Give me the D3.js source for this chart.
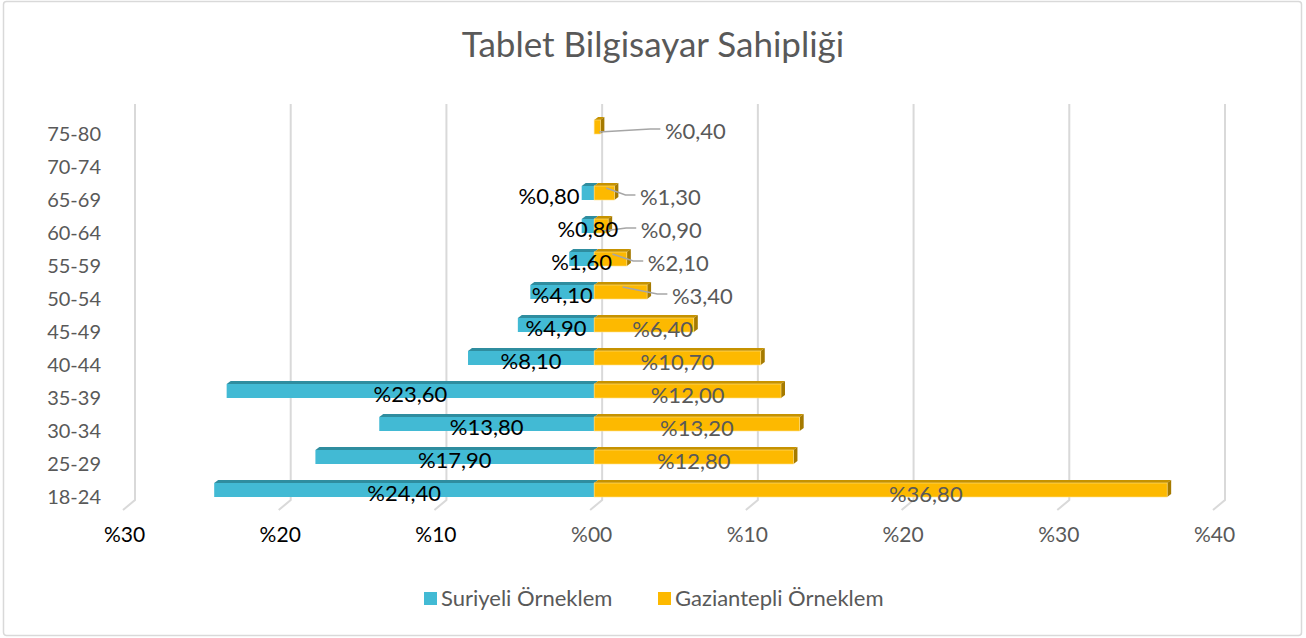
<!DOCTYPE html>
<html>
<head>
<meta charset="utf-8">
<script src="https://cdn.jsdelivr.net/npm/d3@7"></script>
<style>
  body { margin: 0; background: #fff; }
  svg { display: block; font-family: Lato, "Open Sans", sans-serif; }
</style>
</head>
<body>
<div id="chart"></div>
<script>
  // data (age groups, top to bottom as drawn)
  var categories = ["75-80", "70-74", "65-69", "60-64", "55-59", "50-54", "45-49", "40-44", "35-39", "30-34", "25-29", "18-24"];
  var suriyeli = [0, 0, 0.8, 0.8, 1.6, 4.1, 4.9, 8.1, 23.6, 13.8, 17.9, 24.4];
  var gaziantepli = [0.4, 0, 1.3, 0.9, 2.1, 3.4, 6.4, 10.7, 12.0, 13.2, 12.8, 36.8];
  var tickValues = [-30, -20, -10, 0, 10, 20, 30, 40];
  var seriesNames = ["Suriyeli Örneklem", "Gaziantepli Örneklem"];
  var title = "Tablet Bilgisayar Sahipliği";

  var width = 1306, height = 638;

  var blue = "#42bad4", blueTop = "#2f8d9f";
  var gold = "#fdb900", goldTop = "#c69200", goldSide = "#a57a00";

  // manually moved labels in the original (label centre in axis units)
  var gazLabelAt = { "75-80": 6.5, "65-69": 4.9, "60-64": 4.95, "55-59": 5.4, "50-54": 6.95, "45-49": 4.4, "18-24": 21.3 };
  var gazLeader = ["75-80", "65-69", "60-64", "55-59", "50-54"];
  var surLabelAt = { "65-69": -2.9 };

  var svg = d3.select("#chart").append("svg")
    .attr("width", width)
    .attr("height", height);

  // outer frame
  svg.append("rect")
    .attr("x", 3.5).attr("y", 1.5)
    .attr("width", 1298).attr("height", 634)
    .attr("rx", 3)
    .attr("fill", "#fff")
    .attr("stroke", "#d9d9d9")
    .attr("stroke-width", 1.5);

  svg.append("text")
    .attr("x", 653).attr("y", 57)
    .attr("text-anchor", "middle")
    .attr("font-size", "35px")
    .attr("fill", "#595959")
    .text(title);

  var x = d3.scaleLinear().domain([-30, 40]).range([127, 1217]);
  var y = d3.scalePoint().domain(categories).range([127, 490]);

  var depthX = 8;

  // back wall gridlines with floor slant
  svg.append("g").selectAll("path")
    .data(tickValues)
    .join("path")
    .attr("d", d => "M" + (x(d) + depthX) + ",104 L" + (x(d) + depthX) + ",500 L" + (x(d) - 4) + ",510")
    .attr("fill", "none")
    .attr("stroke", "#d9d9d9")
    .attr("stroke-width", 2);

  // x axis
  var xAxis = d3.axisBottom(x)
    .tickValues(tickValues)
    .tickSize(0)
    .tickFormat(d => "%" + d3.format("02d")(Math.abs(d)));

  var axisG = svg.append("g")
    .attr("transform", "translate(-3,524)")
    .call(xAxis);
  axisG.select(".domain").remove();
  axisG.selectAll("text")
    .attr("font-family", "Lato, 'Open Sans', sans-serif")
    .attr("font-size", "21px")
    .attr("fill", d => d < 0 ? "#000" : "#595959");

  // y category labels
  svg.append("g").selectAll("text")
    .data(categories)
    .join("text")
    .attr("x", 101)
    .attr("y", d => y(d) + 7)
    .attr("dy", "0.35em")
    .attr("text-anchor", "end")
    .attr("font-size", "20px")
    .attr("fill", "#595959")
    .text(d => d);

  var half = 7, topH = 3, topD = 4;

  var rows = categories.map((c, i) => ({ cat: c, sur: suriyeli[i], gaz: gaziantepli[i] }));

  var bars = svg.append("g");

  // Suriyeli (left side)
  rows.filter(d => d.sur > 0).forEach(d => {
    var x0 = x(-d.sur), x1 = x(0), cy = y(d.cat);
    bars.append("path")
      .attr("d", "M" + x0 + "," + (cy - half) + " L" + (x0 + topD) + "," + (cy - half - topH) +
        " L" + (x1 + topD) + "," + (cy - half - topH) + " L" + x1 + "," + (cy - half) + "Z")
      .attr("fill", blueTop);
    bars.append("rect")
      .attr("x", x0).attr("y", cy - half)
      .attr("width", x1 - x0).attr("height", half * 2)
      .attr("fill", blue);
  });

  // Gaziantepli (right side)
  rows.filter(d => d.gaz > 0).forEach(d => {
    var x0 = x(0), x1 = x(d.gaz), cy = y(d.cat);
    bars.append("path")
      .attr("d", "M" + x0 + "," + (cy - half) + " L" + (x0 + topD) + "," + (cy - half - topH) +
        " L" + (x1 + topD) + "," + (cy - half - topH) + " L" + x1 + "," + (cy - half) + "Z")
      .attr("fill", goldTop);
    bars.append("path")
      .attr("d", "M" + x1 + "," + (cy - half) + " L" + (x1 + topD) + "," + (cy - half - topH) +
        " L" + (x1 + topD) + "," + (cy + half - topH) + " L" + x1 + "," + (cy + half) + "Z")
      .attr("fill", goldSide);
    bars.append("rect")
      .attr("x", x0).attr("y", cy - half)
      .attr("width", x1 - x0).attr("height", half * 2)
      .attr("fill", gold)
      .attr("stroke", "#ffe08a")
      .attr("stroke-width", 0.6);
  });

  var fmt = v => "%" + v.toFixed(2).replace(".", ",");

  // leader lines for moved Gaziantepli labels
  var labels = svg.append("g");
  rows.filter(d => gazLeader.indexOf(d.cat) >= 0).forEach(d => {
    var cy = y(d.cat);
    var sx = x(d.gaz * 0.5) + 2;
    var lx = x(gazLabelAt[d.cat]) - 35;
    labels.append("path")
      .attr("d", "M" + sx + "," + (cy + (d.gaz < 1 ? 5 : -5)) + " L" + (lx - 10) + "," + (cy + 2) + " L" + lx + "," + (cy + 2))
      .attr("fill", "none")
      .attr("stroke", "#a6a6a6")
      .attr("stroke-width", 1.5);
  });

  labels.selectAll("text.gaz")
    .data(rows.filter(d => d.gaz > 0))
    .join("text")
    .attr("class", "gaz")
    .attr("x", d => gazLabelAt[d.cat] !== undefined ? x(gazLabelAt[d.cat]) : x(d.gaz / 2))
    .attr("y", d => y(d.cat) + 4)
    .attr("dy", "0.35em")
    .attr("text-anchor", "middle")
    .attr("font-size", "22px")
    .attr("fill", "#595959")
    .text(d => fmt(d.gaz));

  labels.selectAll("text.sur")
    .data(rows.filter(d => d.sur > 0))
    .join("text")
    .attr("class", "sur")
    .attr("x", d => surLabelAt[d.cat] !== undefined ? x(surLabelAt[d.cat]) : x(-d.sur / 2))
    .attr("y", d => y(d.cat) + 3)
    .attr("dy", "0.35em")
    .attr("text-anchor", "middle")
    .attr("font-size", "22px")
    .attr("fill", "#000")
    .text(d => fmt(d.sur));

  // legend
  var legend = svg.append("g");
  var legendX = [424, 658];
  var legendColors = [blue, gold];
  seriesNames.forEach((name, i) => {
    legend.append("rect")
      .attr("x", legendX[i]).attr("y", 592)
      .attr("width", 13).attr("height", 13)
      .attr("fill", legendColors[i]);
    legend.append("text")
      .attr("x", legendX[i] + 17).attr("y", 598)
      .attr("dy", "0.35em")
      .attr("font-size", "22px")
      .attr("fill", "#595959")
      .text(name);
  });
</script>
</body>
</html>
